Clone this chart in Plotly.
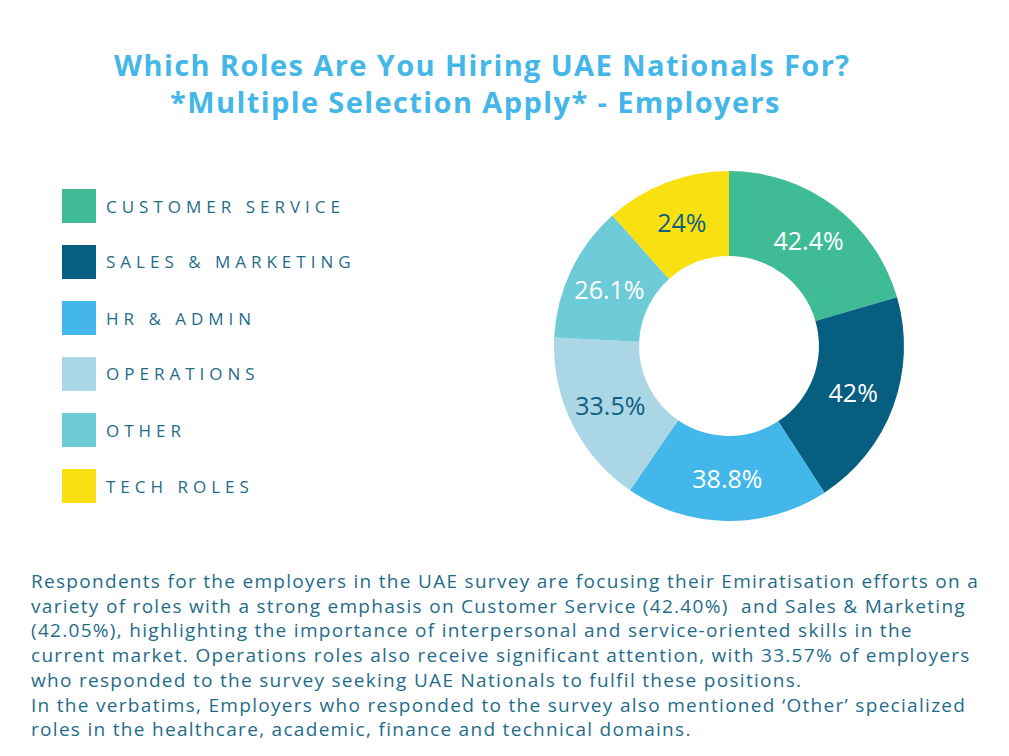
import plotly.graph_objects as go

W, H = 1009, 756

categories = ["CUSTOMER SERVICE", "SALES & MARKETING", "HR & ADMIN", "OPERATIONS", "OTHER", "TECH ROLES"]
values = [42.4, 42, 38.8, 33.5, 26.1, 24]
colors = ["#3fbc96", "#065f80", "#43b7e9", "#aad6e5", "#6dcbd7", "#f9e010"]
text_colors = ["#ffffff", "#ffffff", "#ffffff", "#0e5f80", "#ffffff", "#0e5f80"]

title_lines = ["Which Roles Are You Hiring UAE Nationals For?", "*Multiple Selection Apply* - Employers"]
body_lines = [
    "Respondents for the employers in the UAE survey are focusing their Emiratisation efforts on a",
    "variety of roles with a strong emphasis on Customer Service (42.40%)  and Sales &amp; Marketing",
    "(42.05%), highlighting the importance of interpersonal and service-oriented skills in the",
    "current market. Operations roles also receive significant attention, with 33.57% of employers",
    "who responded to the survey seeking UAE Nationals to fulfil these positions.",
    "In the verbatims, Employers who responded to the survey also mentioned \u2018Other\u2019 specialized",
    "roles in the healthcare, academic, finance and technical domains.",
]

def px(x):
    return x / W

def py(y):
    return 1 - y / H

FONT = "Open Sans"
TEXT_COL = "#1f6c8a"

cx, cy, r = 729, 346, 175

fig = go.Figure()
fig.add_trace(go.Pie(
    labels=categories,
    values=values,
    sort=False,
    direction="clockwise",
    rotation=0,
    hole=0.514,
    marker=dict(colors=colors, line=dict(width=0)),
    texttemplate="%{value}%",
    textposition="inside",
    insidetextorientation="horizontal",
    textfont=dict(family=FONT, size=25, color=text_colors),
    showlegend=False,
    hoverinfo="label+value",
    domain=dict(x=[px(cx - r), px(cx + r)], y=[py(cy + r), py(cy - r)]),
))

shapes = []
annotations = []

# title (two lines)
for line, xc, yc in zip(title_lines, [482, 475], [65, 101]):
    annotations.append(dict(
        x=px(xc), y=py(yc), xref="paper", yref="paper", xanchor="center", yanchor="middle",
        text='<span style="letter-spacing:1.4px"><b>' + line + "</b></span>",
        showarrow=False, align="center",
        font=dict(family=FONT, size=29, color="#44b7e8"),
    ))

# custom legend
for i, (cat, col) in enumerate(zip(categories, colors)):
    yc = 206 + i * 56
    shapes.append(dict(
        type="rect", xref="paper", yref="paper",
        x0=px(62), x1=px(96), y0=py(yc - 17), y1=py(yc + 17),
        fillcolor=col, line=dict(width=0),
    ))
    annotations.append(dict(
        x=px(104), y=py(yc), xref="paper", yref="paper", xanchor="left", yanchor="middle",
        text='<span style="letter-spacing:5px">' + cat.replace("&", "&amp;") + "</span>",
        showarrow=False,
        font=dict(family=FONT, size=17, color=TEXT_COL),
    ))

# body text
annotations.append(dict(
    x=px(29), y=py(566), xref="paper", yref="paper", xanchor="left", yanchor="top",
    text='<span style="letter-spacing:1.3px">' + "<br>".join(body_lines) + "</span>",
    showarrow=False, align="left",
    font=dict(family=FONT, size=19, color=TEXT_COL),
))

fig.update_layout(
    width=W, height=H,
    margin=dict(l=0, r=0, t=0, b=0),
    paper_bgcolor="white",
    plot_bgcolor="white",
    shapes=shapes,
    annotations=annotations,
)

fig.write_html("out.html")
